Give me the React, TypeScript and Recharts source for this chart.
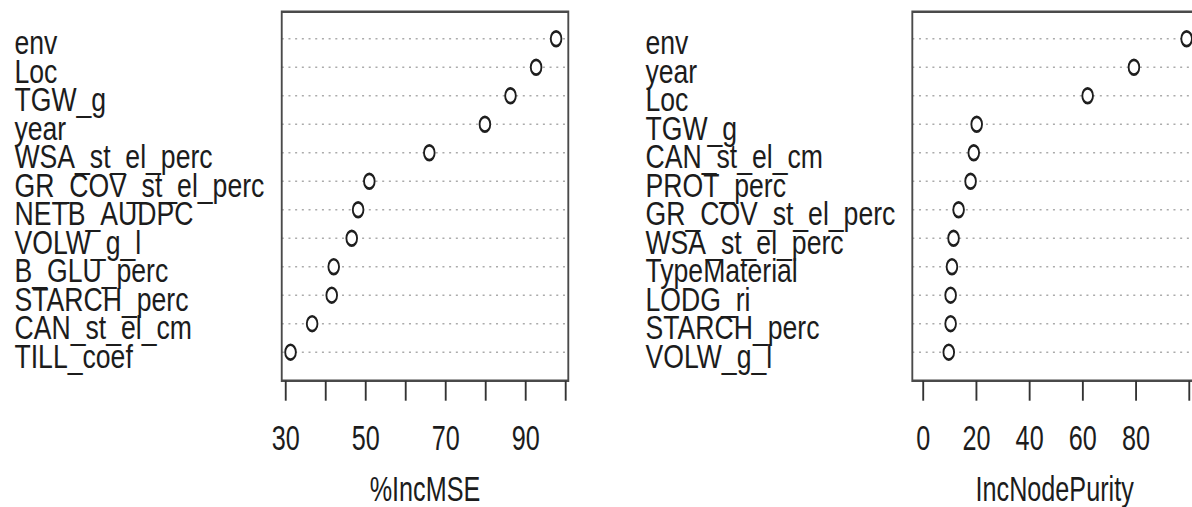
import React from "react";
import {
  CartesianGrid,
  ReferenceArea,
  Scatter,
  ScatterChart,
  XAxis,
  YAxis,
} from "recharts";

// %IncMSE panel (top to bottom)
const mseVars = [
  "env",
  "Loc",
  "TGW_g",
  "year",
  "WSA_st_el_perc",
  "GR_COV_st_el_perc",
  "NETB_AUDPC",
  "VOLW_g_l",
  "B_GLU_perc",
  "STARCH_perc",
  "CAN_st_el_cm",
  "TILL_coef",
];
const mseValues = [97.6, 92.6, 86.2, 79.8, 65.9, 50.9, 48.1, 46.5, 42.0, 41.5, 36.6, 31.2];
const mseTicks = [30, 40, 50, 60, 70, 80, 90, 100];
const mseTickLabels = [30, 50, 70, 90];

// IncNodePurity panel (top to bottom)
const purityVars = [
  "env",
  "year",
  "Loc",
  "TGW_g",
  "CAN_st_el_cm",
  "PROT_perc",
  "GR_COV_st_el_perc",
  "WSA_st_el_perc",
  "TypeMaterial",
  "LODG_ri",
  "STARCH_perc",
  "VOLW_g_l",
];
const purityValues = [99.0, 79.2, 61.8, 20.1, 19.0, 17.8, 13.3, 11.4, 10.8, 10.3, 10.3, 9.6];
const purityTicks = [0, 20, 40, 60, 80, 100];
const purityTickLabels = [0, 20, 40, 60, 80];

const FONT = "'Liberation Sans', Arial, Helvetica, sans-serif";
const SQUEEZE = 0.72; // the original plot is horizontally compressed
const LABEL_STRETCH = 1.12; // row labels are a bit wider than the rest
const TEXT = "#1c1c1c";

type Row = { name: string; value: number; rank: number };

function toRows(names: string[], values: number[]): Row[] {
  return names.map((name, i) => ({ name, value: values[i], rank: names.length - i }));
}

const ranks = mseVars.map((_, i) => i + 1);

type PanelProps = {
  rows: Row[];
  domain: [number, number];
  ticks: number[];
  tickLabels: number[];
  title: string;
  width: number;
  yAxisWidth: number;
  rightMargin: number;
  labelX: number;
};

function DotPanel({
  rows,
  domain,
  ticks,
  tickLabels,
  title,
  width,
  yAxisWidth,
  rightMargin,
  labelX,
}: PanelProps) {
  const nameOf = (rank: number) => rows.find((r) => r.rank === rank)?.name ?? "";
  const yTop = 12.95;

  return (
    <ScatterChart
      width={width}
      height={507}
      margin={{ top: 11.7, right: rightMargin, bottom: 0, left: 0 }}
    >
      <CartesianGrid
        vertical={false}
        stroke="#ababab"
        strokeWidth={1.5}
        strokeDasharray="2.8 6.5"
      />
      <XAxis
        type="number"
        dataKey="value"
        domain={domain}
        allowDataOverflow
        ticks={ticks}
        interval={0}
        height={126.3}
        axisLine={false}
        tickSize={20}
        tickMargin={24.5}
        tickLine={{ stroke: "#333", strokeWidth: 2.6 }}
        tick={{ fill: TEXT, fontSize: 35, fontFamily: FONT }}
        tickFormatter={(v: number) => (tickLabels.includes(v) ? String(v) : "")}
        label={{
          value: title,
          position: "insideBottom",
          offset: 6,
          fill: TEXT,
          fontSize: 35,
          fontFamily: FONT,
        }}
      />
      <YAxis
        type="number"
        dataKey="rank"
        domain={[0, yTop]}
        allowDataOverflow
        ticks={ranks}
        interval={0}
        width={yAxisWidth}
        axisLine={false}
        tickLine={false}
        tick={(props: any) => (
          <text
            transform={`translate(${labelX} ${props.y + 15.5}) scale(${LABEL_STRETCH} 1)`}
            x={0}
            y={0}
            textAnchor="start"
            fill={TEXT}
            fontSize={33}
            fontFamily={FONT}
          >
            {nameOf(props.payload.value)}
          </text>
        )}
      />
      <ReferenceArea
        x1={domain[0]}
        x2={domain[1]}
        y1={0}
        y2={yTop}
        fill="none"
        fillOpacity={0}
        stroke="#4a4a4a"
        strokeWidth={2.6}
        ifOverflow="visible"
      />
      <Scatter
        data={rows}
        isAnimationActive={false}
        shape={(p: any) => (
          <circle cx={p.cx} cy={p.cy} r={7.4} fill="#fff" stroke="#1e1e1e" strokeWidth={2.6} />
        )}
      />
    </ScatterChart>
  );
}

export default function App() {
  const mseRows = toRows(mseVars, mseValues);
  const purityRows = toRows(purityVars, purityValues);

  return (
    <div
      style={{
        position: "absolute",
        left: 0,
        top: 0,
        width: 1192,
        height: 507,
        overflow: "hidden",
        background: "#fff",
        fontFamily: FONT,
      }}
    >
      <div
        style={{
          position: "relative",
          width: 1700,
          height: 507,
          transform: `scaleX(${SQUEEZE})`,
          transformOrigin: "0 0",
        }}
      >
        <div style={{ position: "absolute", left: 0, top: 0 }}>
          <DotPanel
            rows={mseRows}
            domain={[29.0, 100.65]}
            ticks={mseTicks}
            tickLabels={mseTickLabels}
            title="%IncMSE"
            width={850}
            yAxisWidth={391.3}
            rightMargin={60.7}
            labelX={20.1}
          />
        </div>
        <div style={{ position: "absolute", left: 850, top: 0 }}>
          <DotPanel
            rows={purityRows}
            domain={[-4.1, 102.9]}
            ticks={purityTicks}
            tickLabels={purityTickLabels}
            title="IncNodePurity"
            width={832.5}
            yAxisWidth={417.1}
            rightMargin={20}
            labelX={46.5}
          />
        </div>
      </div>
    </div>
  );
}
